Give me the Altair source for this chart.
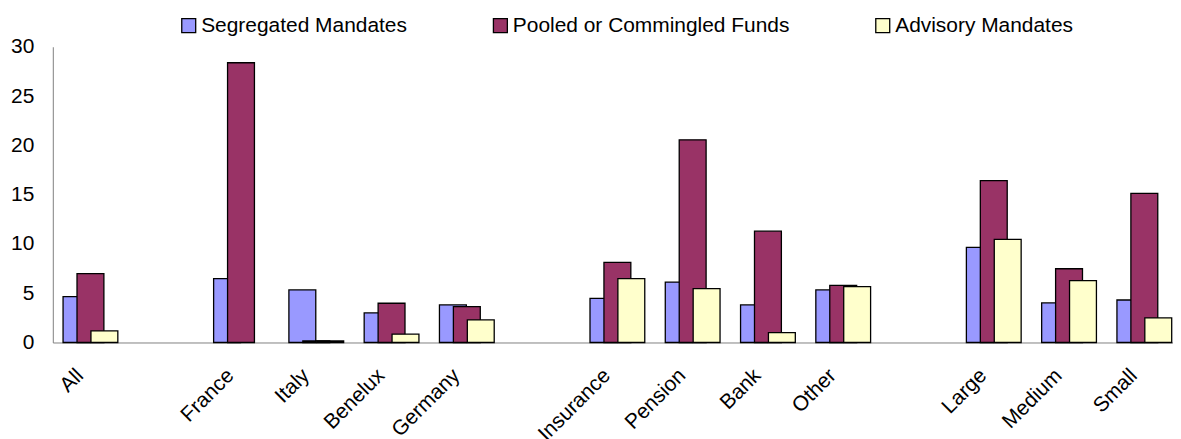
import altair as alt
import pandas as pd

categories = ["All", " ", "France", "Italy", "Benelux", "Germany", "  ",
              "Insurance", "Pension", "Bank", "Other", "   ",
              "Large", "Medium", "Small"]
series = ["Segregated Mandates", "Pooled or Commingled Funds", "Advisory Mandates"]
colors = ["#9999FF", "#993366", "#FFFFCC"]

cats_data = ["All", "France", "Italy", "Benelux", "Germany",
             "Insurance", "Pension", "Bank", "Other",
             "Large", "Medium", "Small"]
segregated = [4.65, 6.47, 5.33, 3.0, 3.81, 4.48, 6.13, 3.81, 5.33, 9.64, 4.01, 4.31]
pooled = [6.98, 28.38, 0.15, 3.98, 3.64, 8.12, 20.56, 11.29, 5.80, 16.41, 7.48, 15.13]
advisory = [1.18, None, 0.15, 0.84, 2.29, 6.47, 5.46, 1.01, 5.66, 10.45, 6.27, 2.49]

rows = []
for s, vals in zip(series, [segregated, pooled, advisory]):
    for c, v in zip(cats_data, vals):
        if v is not None:
            rows.append({"cat": c, "series": s, "value": v})
df = pd.DataFrame(rows)

FONT = "Liberation Sans"

x_enc = alt.X("cat:N", scale=alt.Scale(domain=categories, range=[0, 1134],
                                       paddingInner=0, paddingOuter=0),
              axis=alt.Axis(title=None, labelAngle=-45, labelAlign="right",
                            labelBaseline="top", labelPadding=22, labelOffset=-18,
                            ticks=False, grid=False, domainColor="#808080",
                            labelFont=FONT, labelFontSize=21, labelColor="black"))
y_enc = alt.Y("value:Q", scale=alt.Scale(domain=[0, 30], nice=False),
              axis=alt.Axis(title=None, values=[0, 5, 10, 15, 20, 25, 30], grid=False,
                            ticks=False, labelPadding=19, domainColor="#808080",
                            labelFont=FONT, labelFontSize=21, labelColor="black"))
color_enc = alt.Color("series:N",
                      scale=alt.Scale(domain=series, range=colors),
                      legend=alt.Legend(title=None, orient="none", direction="horizontal",
                                        legendX=126, legendY=-32, symbolType="square",
                                        symbolSize=196, symbolStrokeColor="black",
                                        symbolStrokeWidth=1.3, symbolOpacity=1,
                                        labelFont=FONT, labelFontSize=21, labelLimit=0,
                                        labelColor="black", labelOffset=2,
                                        columnPadding=83, padding=0))

layers = []
for s, off in zip(series, [-14, 0, 14]):
    layers.append(
        alt.Chart(df).transform_filter(alt.datum.series == s)
        .mark_bar(width=27, xOffset=off, stroke="black", strokeWidth=1.3, opacity=1)
        .encode(x=x_enc, y=y_enc, color=color_enc)
    )

chart = alt.layer(*layers).properties(
    width=1125, height=297,
    autosize=alt.AutoSizeParams(type="none"),
    padding={"left": 45, "top": 38, "right": 0, "bottom": 96},
).configure(
    font=FONT,
    view=alt.ViewConfig(stroke="transparent", strokeWidth=0),
    axis=alt.AxisConfig(grid=False),
)

chart.save("out.html", embed_options={"renderer": "svg", "actions": False})
